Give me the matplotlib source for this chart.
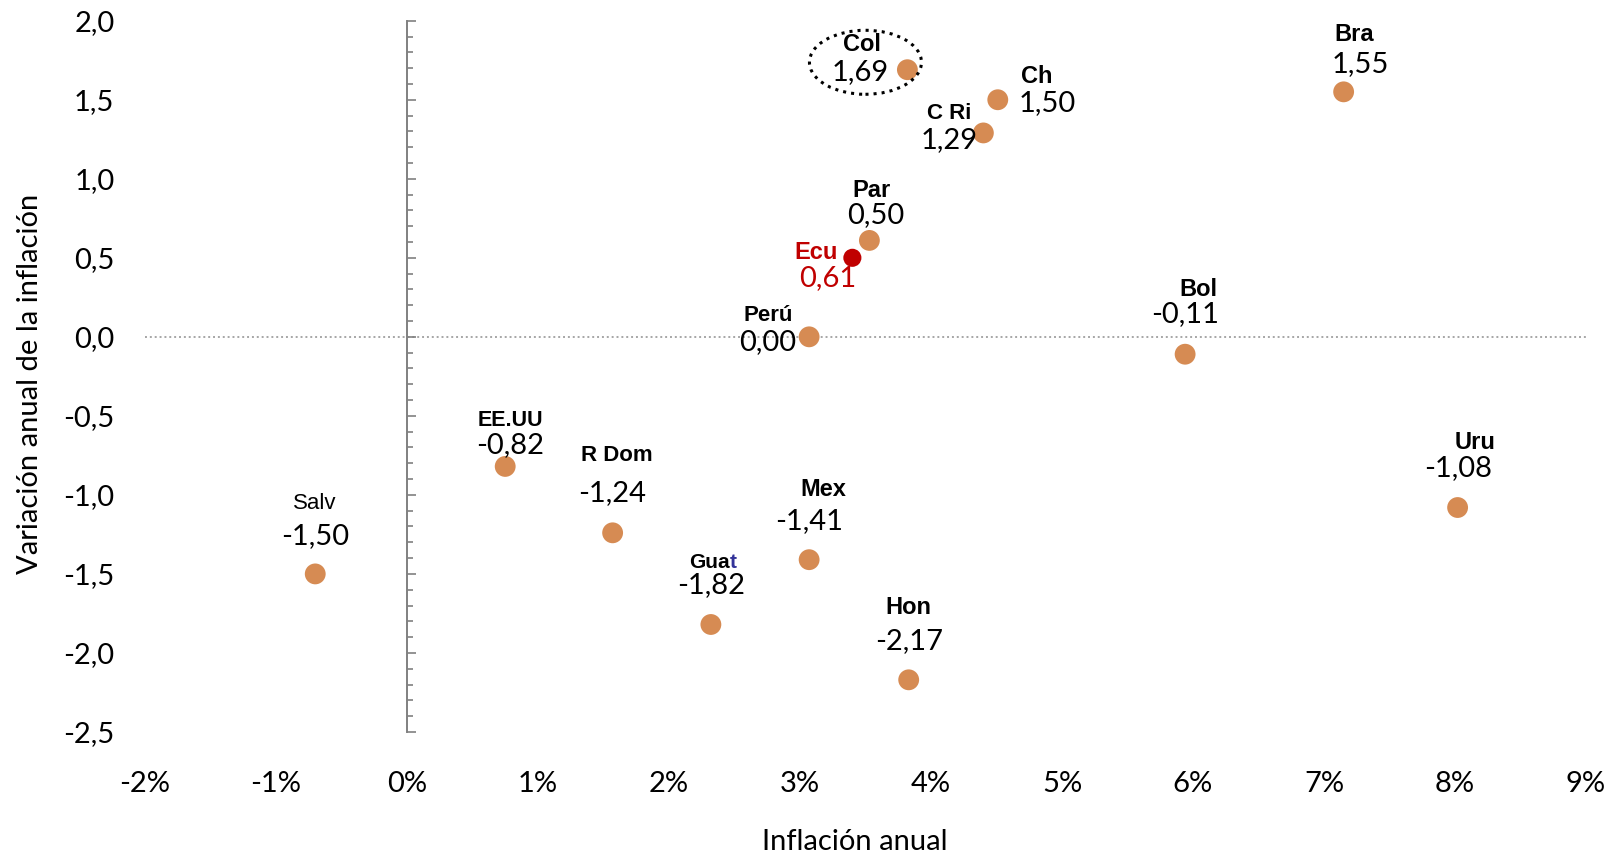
import matplotlib.pyplot as plt
from matplotlib.patches import Ellipse
from matplotlib.ticker import MultipleLocator, FuncFormatter

# Datos
paises = ['Salv', 'EE.UU', 'R Dom', 'Guat', 'Mex', 'Hon', 'Perú', 'Ecu',
          'Par', 'C Ri', 'Ch', 'Col', 'Bra', 'Bol', 'Uru']
inflacion = [-0.70, 0.75, 1.57, 2.32, 3.07, 3.83, 3.07, 3.40,
             3.53, 4.40, 4.51, 3.82, 7.15, 5.94, 8.02]
variacion = [-1.50, -0.82, -1.24, -1.82, -1.41, -2.17, 0.00, 0.50,
             0.61, 1.29, 1.50, 1.69, 1.55, -0.11, -1.08]
etiquetas = ['-1,50', '-0,82', '-1,24', '-1,82', '-1,41', '-2,17', '0,00', '0,61',
             '0,50', '1,29', '1,50', '1,69', '1,55', '-0,11', '-1,08']
x_ticks = list(range(-2, 10))
y_ticks = [-2.5, -2.0, -1.5, -1.0, -0.5, 0.0, 0.5, 1.0, 1.5, 2.0]

naranja = '#D68B53'
rojo = '#C00000'
num_font = ['Lato', 'DejaVu Sans']
name_font = ['Liberation Sans Narrow', 'Liberation Sans', 'DejaVu Sans']

# posicion de etiquetas (pixeles respecto al punto): nombre, valor
off_nombre = [(-1, 70), (5, 46), (4, 77), (3, 62), (14, 70), (0, 72), (-41, 21), (-36, 5),
              (2, 50), (-34, 19), (39, 23), (-45, 25), (11, 57), (13, 65), (17, 65)]
off_valor = [(0, 38), (5, 21), (0, 40), (0, 39), (0, 39), (0, 39), (-41, -5), (-25, -20),
             (6, 25), (-34, -7), (49, -3), (-47, -2), (17, 28), (0, 40), (1, 39)]
tam_nombre = [16, 15.5, 16, 15, 17, 17, 16, 17, 17, 16, 17, 17, 17, 17, 17]

fig = plt.figure(figsize=(16.23, 8.56), dpi=100)
ax = fig.add_axes([0.0893, 0.1449, 0.8879, 0.8309])

colores = [rojo if p == 'Ecu' else naranja for p in paises]
tamanos = [170 if p == 'Ecu' else 225 for p in paises]
ax.scatter(inflacion, variacion, s=tamanos, c=colores, zorder=3, linewidths=0)

ax.axhline(0, color='#A6A6A6', ls=(0, (1, 1.5)), lw=1.4, zorder=1)

for i, p in enumerate(paises):
    col = rojo if p == 'Ecu' else 'black'
    xy = (inflacion[i], variacion[i])
    if p == 'Guat':
        # "t" en azul oscuro
        dx, dy = off_nombre[i]
        ax.annotate('Gua', xy, xytext=(dx + 16, dy), textcoords='offset pixels',
                    ha='right', va='center', fontsize=tam_nombre[i], fontweight='bold',
                    family=name_font, color='black')
        ax.annotate('t', xy, xytext=(dx + 16, dy), textcoords='offset pixels',
                    ha='left', va='center', fontsize=tam_nombre[i], fontweight='bold',
                    family=name_font, color='#333399')
    else:
        ax.annotate(p, xy, xytext=off_nombre[i], textcoords='offset pixels',
                    ha='center', va='center', fontsize=tam_nombre[i],
                    fontweight='normal' if p == 'Salv' else 'bold',
                    family=name_font, color=col)
    ax.annotate(etiquetas[i], xy, xytext=off_valor[i], textcoords='offset pixels',
                ha='center', va='center', fontsize=21, family=num_font, color=col)

# circulo punteado alrededor de Colombia
ic = paises.index('Col')
ax.add_patch(Ellipse((inflacion[ic] - 0.32, variacion[ic] + 0.047), 0.855, 0.405,
                     fill=False, ec='black', ls=':', lw=2.2, zorder=4))

ax.set_xlim(-2, 9)
ax.set_ylim(-2.5, 2.0)

for s in ['top', 'right', 'bottom']:
    ax.spines[s].set_visible(False)
ax.spines['left'].set_position(('data', 0))
ax.spines['left'].set_color('#808080')
ax.spines['left'].set_linewidth(1.4)
ax.set_yticks(y_ticks)
ax.yaxis.set_minor_locator(MultipleLocator(0.1))
ax.tick_params(axis='y', which='major', direction='in', length=6.5, width=1.2,
               color='#808080', labelleft=False)
ax.tick_params(axis='y', which='minor', direction='in', length=4.5, width=1.2,
               color='#808080')

sec = ax.secondary_yaxis('left')
sec.set_yticks(y_ticks)
sec.yaxis.set_major_formatter(FuncFormatter(lambda v, _: f'{v:.1f}'.replace('.', ',')))
sec.spines['left'].set_visible(False)
sec.tick_params(axis='y', length=0, pad=22)
for t in sec.get_yticklabels():
    t.set_fontsize(21)
    t.set_family(num_font)

ax.set_xticks(x_ticks)
ax.xaxis.set_major_formatter(FuncFormatter(lambda v, _: f'{v:.0f}%'))
ax.tick_params(axis='x', length=0, pad=28)
for t in ax.get_xticklabels():
    t.set_fontsize(21)
    t.set_family(num_font)

ax.set_xlabel('Inflación anual', fontsize=21, family=num_font)
ax.xaxis.set_label_coords(0.4927, -0.137)
ax.set_ylabel('Variación anual de la inflación', fontsize=21, family=num_font)
ax.yaxis.set_label_coords(-0.071, 0.49)

fig.savefig('out.png', dpi=100)
